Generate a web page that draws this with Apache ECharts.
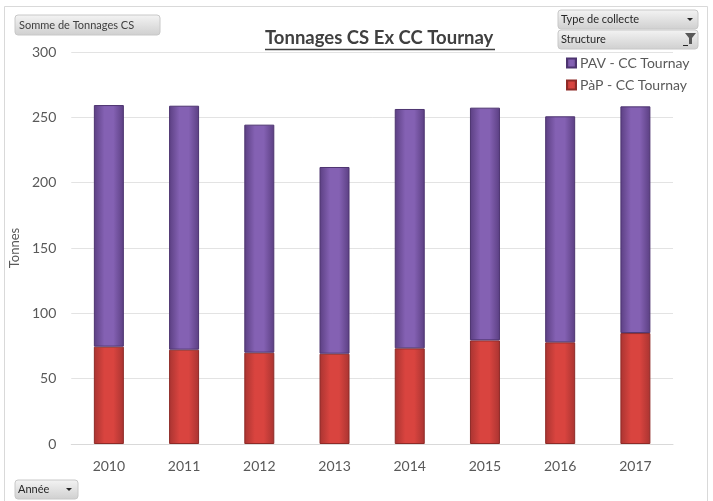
<!DOCTYPE html>
<html><head><meta charset="utf-8">
<script src="https://cdn.jsdelivr.net/npm/echarts@6/dist/echarts.min.js"></script>
<style>html,body{margin:0;padding:0;background:#fff}#c{width:713px;height:501px}</style>
</head><body><div id="c"></div>
<script>
const years = ['2010','2011','2012','2013','2014','2015','2016','2017'];
const papValues = [74.5, 72.2, 69.9, 69.1, 73.2, 79.3, 77.8, 84.9];
const pavValues = [184.9, 186.7, 174.5, 142.9, 183.2, 178.1, 173.0, 173.5];
const yTicks = [0, 50, 100, 150, 200, 250, 300];
const seriesNames = ['PAV - CC Tournay', 'PàP - CC Tournay'];

const FONT = 'Lato, "Open Sans", sans-serif';
function hgrad(edge, mid) {
  return new echarts.graphic.LinearGradient(0, 0, 1, 0, [
    {offset: 0, color: edge}, {offset: 0.35, color: mid}, {offset: 0.65, color: mid}, {offset: 1, color: edge}
  ]);
}
function btnFill() {
  return new echarts.graphic.LinearGradient(0, 0, 0, 1, [
    {offset: 0, color: '#f4f4f4'}, {offset: 1, color: '#cfcfcf'}
  ]);
}
const chart = echarts.init(document.getElementById('c'), null, {renderer: 'canvas'});
chart.setOption({
  backgroundColor: '#fff',
  animation: false,
  grid: {left: 69, right: 40, top: 52, bottom: 57, containLabel: false},
  legend: {
    data: seriesNames,
    orient: 'vertical',
    left: 561, top: 51,
    itemWidth: 9, itemHeight: 9, itemGap: 8,
    icon: 'rect',
    textStyle: {fontFamily: FONT, fontSize: 14, color: '#595959', padding: [0,0,0,-1]}
  },
  xAxis: {
    type: 'category', data: years,
    axisLine: {lineStyle: {color: '#d9d9d9'}},
    axisTick: {show: false},
    axisLabel: {fontFamily: FONT, fontSize: 14, color: '#595959', margin: 15}
  },
  yAxis: {
    type: 'value', min: 0, max: 300, interval: 50,
    name: 'Tonnes', nameLocation: 'middle', nameGap: 42, nameRotate: 90,
    nameTextStyle: {fontFamily: FONT, fontSize: 13, color: '#595959'},
    axisLine: {show: false}, axisTick: {show: false},
    splitLine: {lineStyle: {color: '#e3e3e3'}},
    axisLabel: {fontFamily: FONT, fontSize: 14, color: '#595959', margin: 15,
      formatter: v => yTicks.includes(v) ? String(v) : ''}
  },
  series: [
    {
      name: seriesNames[1], type: 'bar', stack: 't', data: papValues, barWidth: 30,
      itemStyle: {color: hgrad('#a93431', '#d9443f'), borderColor: '#8e2a27', borderWidth: 1}
    },
    {
      name: seriesNames[0], type: 'bar', stack: 't', data: pavValues, barWidth: 30,
      itemStyle: {color: hgrad('#5b3f82', '#8461b3'), borderColor: '#4d3470', borderWidth: 1}
    }
  ],
  graphic: [
    {type: 'rect', shape: {x: 4.5, y: 6.5, width: 703, height: 500}, style: {fill: 'none', stroke: '#d9d9d9', lineWidth: 1}, silent: true},
    {type: 'text', style: {x: 0, y: 0, text: 'Tonnages CS Ex CC Tournay', fontFamily: FONT, fontSize: 18.5, fontWeight: 'bold', fill: '#404040'}, top: 29, left: 265},
    {type: 'line', shape: {x1: 265, y1: 49.5, x2: 495, y2: 49.5}, style: {stroke: '#404040', lineWidth: 1.3}},
    // Somme button
    {type: 'rect', shape: {x: 15, y: 15, width: 145, height: 20, r: 3}, style: {fill: btnFill(), stroke: '#c8c8c8'}},
    {type: 'text', style: {x: 19, y: 25, text: 'Somme de Tonnages CS', fontFamily: FONT, fontSize: 11, fill: '#404040', verticalAlign: 'middle'}},
    // Type de collecte
    {type: 'rect', shape: {x: 558, y: 10, width: 140, height: 19, r: 3}, style: {fill: btnFill(), stroke: '#c8c8c8'}},
    {type: 'text', style: {x: 561, y: 19.5, text: 'Type de collecte', fontFamily: FONT, fontSize: 11, fill: '#262626', verticalAlign: 'middle'}},
    {type: 'polygon', shape: {points: [[687,18],[693,18],[690,21]]}, style: {fill: '#262626'}},
    // Structure
    {type: 'rect', shape: {x: 558, y: 30, width: 140, height: 19, r: 3}, style: {fill: btnFill(), stroke: '#c8c8c8'}},
    {type: 'text', style: {x: 561, y: 39.5, text: 'Structure', fontFamily: FONT, fontSize: 11, fill: '#262626', verticalAlign: 'middle'}},
    {type: 'polygon', shape: {points: [[685,33],[696,33],[692,38],[692,44],[689,44],[689,38]]}, style: {fill: '#595959'}},
    {type: 'line', shape: {x1: 683, y1: 45.5, x2: 688, y2: 45.5}, style: {stroke: '#262626', lineWidth: 1}},
    // Année
    {type: 'rect', shape: {x: 15, y: 480, width: 63, height: 19, r: 3}, style: {fill: btnFill(), stroke: '#c8c8c8'}},
    {type: 'text', style: {x: 18, y: 489.5, text: 'Année', fontFamily: FONT, fontSize: 11, fill: '#262626', verticalAlign: 'middle'}},
    {type: 'polygon', shape: {points: [[66,488],[72,488],[69,491]]}, style: {fill: '#262626'}}
  ]
});
</script></body></html>
